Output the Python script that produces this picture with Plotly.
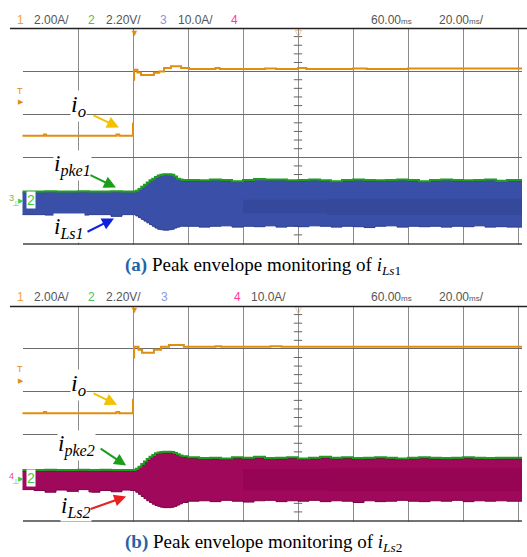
import plotly.graph_objects as go

W, H = 527, 557

# ---------------- data (time in ms relative to trigger, 20 ms/div; y in screen divisions) ----------------
t_band = [-40.4, -36, -32, -28, -24, -20, -16, -12, -8, -4, -1,
          0, 1, 2, 3, 4, 5, 6, 7, 8, 9, 10, 11, 12, 13, 14, 15, 16, 17, 18,
          20, 24, 28, 32, 36, 40, 44, 48, 52, 56, 60, 64, 68, 72, 76, 80, 84, 88, 92, 96,
          100, 104, 108, 112, 116, 120, 124, 128, 132, 136, 141.5]

# panel (a): i_Ls1 band (blue) and its peak envelope i_pke1 (green)
top_a = [1.18, 1.18, 1.19, 1.18, 1.18, 1.19, 1.18, 1.18, 1.19, 1.18, 1.18,
         1.18, 1.20, 1.24, 1.29, 1.34, 1.39, 1.44, 1.48, 1.52, 1.55, 1.57, 1.58, 1.58, 1.58, 1.57, 1.53, 1.48, 1.46, 1.45,
         1.45, 1.44, 1.46, 1.45, 1.42, 1.45, 1.47, 1.46, 1.46, 1.44, 1.45, 1.46, 1.44, 1.42, 1.45, 1.46, 1.45, 1.44, 1.45, 1.46,
         1.45, 1.42, 1.45, 1.46, 1.45, 1.44, 1.45, 1.46, 1.43, 1.45, 1.45]
bot_a = [0.67, 0.67, 0.66, 0.67, 0.67, 0.66, 0.67, 0.67, 0.63, 0.67, 0.67,
         0.67, 0.64, 0.60, 0.56, 0.52, 0.48, 0.44, 0.40, 0.36, 0.33, 0.32, 0.31, 0.31, 0.32, 0.33, 0.36, 0.38, 0.40, 0.40,
         0.40, 0.38, 0.40, 0.41, 0.38, 0.40, 0.39, 0.41, 0.38, 0.40, 0.39, 0.41, 0.40, 0.38, 0.40, 0.39, 0.37, 0.40, 0.41, 0.38,
         0.40, 0.39, 0.40, 0.38, 0.40, 0.39, 0.41, 0.38, 0.39, 0.38, 0.38]

# panel (b): i_Ls2 band (magenta) and its peak envelope i_pke2 (green)
top_b = [1.15, 1.15, 1.16, 1.15, 1.15, 1.16, 1.15, 1.16, 1.15, 1.15, 1.15,
         1.15, 1.18, 1.23, 1.29, 1.35, 1.41, 1.46, 1.50, 1.54, 1.56, 1.57, 1.58, 1.58, 1.58, 1.57, 1.55, 1.52, 1.49, 1.47,
         1.45, 1.43, 1.44, 1.42, 1.45, 1.44, 1.46, 1.43, 1.44, 1.45, 1.42, 1.44, 1.46, 1.44, 1.45, 1.43, 1.44, 1.45, 1.44, 1.42,
         1.44, 1.45, 1.44, 1.43, 1.44, 1.45, 1.44, 1.43, 1.44, 1.44, 1.44]
bot_b = [0.72, 0.70, 0.66, 0.71, 0.68, 0.72, 0.66, 0.70, 0.67, 0.71, 0.70,
         0.70, 0.66, 0.61, 0.56, 0.51, 0.46, 0.42, 0.38, 0.35, 0.33, 0.31, 0.30, 0.30, 0.30, 0.31, 0.33, 0.36, 0.39, 0.42,
         0.45, 0.46, 0.44, 0.47, 0.45, 0.43, 0.46, 0.47, 0.44, 0.46, 0.45, 0.47, 0.44, 0.46, 0.45, 0.42, 0.46, 0.44, 0.45, 0.47,
         0.45, 0.44, 0.46, 0.45, 0.47, 0.44, 0.46, 0.45, 0.46, 0.45, 0.45]

# darker inner shading of the switching-current band (later part of the record)
t_inner = [40, 70, 70.5, 141.5]
inner_a_top = [1.02, 1.02, 1.04, 1.04]
inner_a_bot = [0.70, 0.70, 0.66, 0.66]
inner_b_top = [1.20, 1.20, 1.22, 1.22]
inner_b_bot = [0.70, 0.70, 0.68, 0.68]

# output current i_o (orange), before and after the load step
t_io_pre = [-40.4, -32.4, -31.6, -6.0, -5.0, 0.0, 0.0]
io_a_pre = [2.50, 2.53, 2.50, 2.53, 2.50, 2.50, 2.80]
io_b_pre = [2.50, 2.53, 2.50, 2.53, 2.50, 2.50, 2.84]

t_io_a_post = [0.3, 0.4, 1.6, 2.9, 7.6, 9.5, 11.3, 13.8, 17.5, 20.4, 30, 31.5, 48, 52, 60, 63, 80, 85, 100, 141.5]
io_a_post = [3.80, 4.03, 3.97, 3.91, 3.96, 3.99, 4.07, 4.11, 4.07, 4.05, 4.07, 4.05, 4.06, 4.05, 4.07, 4.05, 4.06, 4.05, 4.06, 4.06]

t_io_b_post = [0.3, 0.4, 2.0, 3.3, 7.6, 10.2, 13.1, 18.5, 30, 32, 50, 54, 70, 100, 141.5]
io_b_post = [3.80, 4.05, 3.98, 3.91, 3.98, 4.05, 4.09, 4.05, 4.06, 4.05, 4.06, 4.05, 4.05, 4.05, 4.05]

# minor ticks on the centre graticule line
center_ticks = [0.2, 0.4, 0.6, 0.8, 1.2, 1.4, 1.6, 1.8, 2.2, 2.4, 2.6, 2.8,
                3.2, 3.4, 3.6, 3.8, 4.2, 4.4, 4.6, 4.8]

assert len(t_band) == len(top_a) == len(bot_a) == len(top_b) == len(bot_b)

# ---------------- helpers ----------------
def xp(px):
    return px / W

def yp(py):
    return 1 - py / H

PX_PER_DIV = 55.0
T0 = -40 - 0.5 * 20 / PX_PER_DIV
T1 = T0 + (522 - 22.5) * 20 / PX_PER_DIV

ORANGE = "#e08e10"
GREEN = "#1f9d1f"
BLUE = "#3a50a8"
PINK = "#a0085c"

fig = go.Figure()

def add_panel(xa, ya, top, bot, fill, edge, inner_top, inner_bot, inner_col,
              io_pre, t_post, io_post, green_dark):
    fig.add_trace(go.Scatter(x=[60] * len(center_ticks), y=center_ticks, xaxis=xa, yaxis=ya,
                             mode="markers", marker=dict(symbol="line-ew", size=6,
                             line=dict(width=1, color="#666")), hoverinfo="skip"))
    fig.add_trace(go.Scatter(x=t_band, y=bot, xaxis=xa, yaxis=ya, mode="lines",
                             line=dict(color=edge, width=1, shape="hv"), hoverinfo="skip"))
    fig.add_trace(go.Scatter(x=t_band, y=top, xaxis=xa, yaxis=ya, mode="lines", fill="tonexty",
                             fillcolor=fill, line=dict(color=green_dark, width=1, shape="hv"),
                             hoverinfo="skip"))
    fig.add_trace(go.Scatter(x=t_inner, y=inner_bot, xaxis=xa, yaxis=ya, mode="lines",
                             line=dict(color=inner_col, width=0, shape="hv"), hoverinfo="skip"))
    fig.add_trace(go.Scatter(x=t_inner, y=inner_top, xaxis=xa, yaxis=ya, mode="lines", fill="tonexty",
                             fillcolor=inner_col, line=dict(color=inner_col, width=0, shape="hv"),
                             hoverinfo="skip"))
    fig.add_trace(go.Scatter(x=t_band, y=[v + 0.025 for v in top], xaxis=xa, yaxis=ya, mode="lines",
                             line=dict(color=GREEN, width=2, shape="hv"), hoverinfo="skip"))
    fig.add_trace(go.Scatter(x=t_io_pre, y=io_pre, xaxis=xa, yaxis=ya, mode="lines",
                             line=dict(color=ORANGE, width=2, shape="hv"), hoverinfo="skip"))
    fig.add_trace(go.Scatter(x=t_post, y=io_post, xaxis=xa, yaxis=ya, mode="lines",
                             line=dict(color=ORANGE, width=2, shape="hv"), hoverinfo="skip"))

add_panel("x", "y", top_a, bot_a, BLUE, "#2a3b8c", inner_a_top, inner_a_bot, "#34489c",
          io_a_pre, t_io_a_post, io_a_post, "#2d4090")
add_panel("x2", "y2", top_b, bot_b, PINK, "#7a0045", inner_b_top, inner_b_bot, "#980454",
          io_b_pre, t_io_b_post, io_b_post, "#5a0030")

axis_common = dict(showticklabels=False, zeroline=False, showline=False, ticks="",
                   showgrid=True, gridwidth=1, fixedrange=True)

fig.update_layout(
    width=W, height=H, margin=dict(l=0, r=0, t=0, b=0),
    paper_bgcolor="white", plot_bgcolor="white", showlegend=False,
    xaxis=dict(domain=[xp(22.5), xp(522)], range=[T0, T1], tick0=-40, dtick=20,
               gridcolor="#8c8c8c", anchor="y", **axis_common),
    yaxis=dict(domain=[yp(244.5), yp(28)], range=[-1 / 43.2, 5], tick0=0, dtick=1,
               gridcolor="#6a6a6a", anchor="x", **axis_common),
    xaxis2=dict(domain=[xp(22.5), xp(522)], range=[T0, T1], tick0=-40, dtick=20,
                gridcolor="#8c8c8c", anchor="y2", **axis_common),
    yaxis2=dict(domain=[yp(521.5), yp(306)], range=[-1 / 43.0, 5], tick0=0, dtick=1,
                gridcolor="#6a6a6a", anchor="x2", **axis_common),
)

shapes = []
for top_px, bot_px in [(28.5, 244), (306.5, 521)]:
    shapes.append(dict(type="line", xref="paper", yref="paper", x0=xp(10), x1=xp(527),
                       y0=yp(top_px), y1=yp(top_px), line=dict(color="#222", width=1.5)))
    shapes.append(dict(type="line", xref="paper", yref="paper", x0=xp(23), x1=xp(522),
                       y0=yp(bot_px), y1=yp(bot_px), line=dict(color="#444", width=1.5)))
fig.update_layout(shapes=shapes)

ann = []

def txt(text, x, y, color="#555", size=12, family="Liberation Sans", xanchor="left", bg=None):
    d = dict(text=text, x=xp(x), y=yp(y), xref="paper", yref="paper", showarrow=False,
             xanchor=xanchor, yanchor="middle", borderpad=0,
             font=dict(color=color, size=size, family=family))
    if bg:
        d["bgcolor"] = bg
    ann.append(d)

MS = "<span style='font-size:8px'>ms</span>"
for yh, items in [
    (19.5, [("1", 16, "#f0a040"), ("2.00A/", 33, "#555"), ("2", 87, "#55bb55"), ("2.20V/", 105, "#555"),
            ("3", 159, "#8a96e0"), ("10.0A/", 177, "#555"), ("4", 230, "#ff3c9a"),
            ("60.00" + MS, 370, "#555"), ("20.00" + MS + "/", 438, "#555")]),
    (297, [("1", 16, "#f0a040"), ("2.00A/", 33, "#555"), ("2", 87, "#55bb55"), ("2.20V/", 105, "#555"),
           ("3", 160, "#8a96e0"), ("4", 233, "#ff3c9a"), ("10.0A/", 250, "#555"),
           ("60.00" + MS, 370, "#555"), ("20.00" + MS + "/", 438, "#555")]),
]:
    for t, x, c in items:
        txt(t, x, yh, color=c)

for top_px, trig_px, ch_px, chnum, chcol in [(28.5, 97, 200, "3", "#7fb040"), (306.5, 375, 478, "4", "#ff3c9a")]:
    txt("▼", 134.5, top_px + 4, color=ORANGE, size=9, xanchor="center")
    txt("▽", 298, top_px + 4, color="#d8a060", size=9, xanchor="center")
    txt("T", 20, trig_px - 6, color=ORANGE, size=9, xanchor="center")
    txt("▶", 21, trig_px + 5, color=ORANGE, size=7, xanchor="center")
    txt(chnum, 11.5, ch_px - 2, color=chcol, size=9, xanchor="center")
    txt("┴", 15, ch_px + 5, color="#6c6", size=8, xanchor="center")
    txt("▶", 20.5, ch_px, color="#4c4", size=7, xanchor="center")
    txt("2", 31, ch_px, color="#4c4", size=14, xanchor="center", bg="white")

SERIF = "Liberation Serif"
txt("<i>i</i><sub><i>o</i></sub>", 78, 106, color="black", size=24, family=SERIF, xanchor="center", bg="white")
txt("<i>i</i><sub><i>pke1</i></sub>", 72, 166, color="black", size=23, family=SERIF, xanchor="center", bg="white")
txt("<i>i</i><sub><i>Ls1</i></sub>", 69, 228, color="black", size=23, family=SERIF, xanchor="center", bg="white")
txt("<i>i</i><sub><i>o</i></sub>", 78, 385, color="black", size=24, family=SERIF, xanchor="center", bg="white")
txt("<i>i</i><sub><i>pke2</i></sub>", 76, 445, color="black", size=23, family=SERIF, xanchor="center", bg="white")
txt("<i>i</i><sub><i>Ls2</i></sub>", 76, 507, color="black", size=23, family=SERIF, xanchor="center", bg="white")

txt("<b><span style='color:#1f64a8'>(a)</span></b> Peak envelope monitoring of <i>i</i><sub><i>Ls</i>1</sub>",
    263, 266, color="black", size=19, family=SERIF, xanchor="center")
txt("<b><span style='color:#1f64a8'>(b)</span></b> Peak envelope monitoring of <i>i</i><sub><i>Ls</i>2</sub>",
    263, 543, color="black", size=19, family=SERIF, xanchor="center")

def arrow(xr, yr, x, y, ax, ay, color):
    ann.append(dict(text="", x=x, y=y, xref=xr, yref=yr, ax=ax, ay=ay, showarrow=True,
                    arrowhead=2, arrowsize=1.2, arrowwidth=2, arrowcolor=color, standoff=0))

arrow("x", "y", -5.1, 2.69, -27, -13, "#f2c200")
arrow("x", "y", -6.2, 1.30, -27, -13, "#1a9e1a")
arrow("x", "y", -6.9, 0.58, -28, 14, "#1020e0")
arrow("x2", "y2", -5.8, 2.70, -25, -12, "#f2c200")
arrow("x2", "y2", -2.5, 1.28, -27, -18, "#1a9e1a")
arrow("x2", "y2", -2.5, 0.56, -37, 13, "#e82020")

fig.update_layout(annotations=ann)
fig.write_html("out.html")
